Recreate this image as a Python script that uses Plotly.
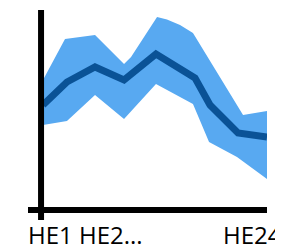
import plotly.graph_objects as go

# Hour-ending positions and values
upper_x = [1.0, 3.26, 6.34, 9.32, 10.04, 12.71, 13.73, 15.07, 16.40, 21.54, 24.0]
upper_y = [65, 85.5, 87.5, 73, 76.5, 96.5, 95.2, 92.5, 88.5, 47.5, 49.5]

lower_x = [1.0, 3.46, 6.34, 9.32, 12.60, 16.40, 18.05, 20.92, 24.0]
lower_y = [42.5, 44.5, 57.5, 45.5, 63, 53, 34, 26.5, 15.5]

line_x = [1.0, 3.46, 6.34, 9.32, 12.60, 16.61, 18.15, 21.02, 24.0]
line_y = [52.5, 64, 71.5, 65, 78, 66, 52.5, 38.5, 36.5]

tick_labels = ["HE1 HE2...", "HE24"]

BAND = "#58A9F1"
LINE = "#0A5296"

fig = go.Figure()
fig.add_trace(go.Scatter(
    x=upper_x + lower_x[::-1], y=upper_y + lower_y[::-1],
    fill="toself", fillcolor=BAND, line=dict(width=0, color=BAND),
    mode="lines", hoverinfo="skip", showlegend=False))
fig.add_trace(go.Scatter(
    x=line_x, y=line_y, mode="lines",
    line=dict(color=LINE, width=7), showlegend=False))

x_min = -0.54
fig.update_layout(
    width=275, height=240,
    margin=dict(l=20, r=16, t=2, b=28),
    paper_bgcolor="white", plot_bgcolor="white",
    xaxis=dict(range=[x_min, 24], visible=False, fixedrange=True),
    yaxis=dict(range=[-5, 100], visible=False, fixedrange=True),
    showlegend=False,
    shapes=[
        dict(type="line", xref="x", yref="y", x0=x_min, x1=24, y0=0, y1=0,
             line=dict(color="black", width=6), layer="above"),
        dict(type="line", xref="x", yref="y", x0=0.8, x1=0.8, y0=-5, y1=100,
             line=dict(color="black", width=6), layer="above"),
    ],
    annotations=[
        dict(text=tick_labels[0], xref="paper", yref="paper", x=0, y=0,
             xanchor="left", yanchor="top", showarrow=False, yshift=4, xshift=-2,
             font=dict(family="Open Sans", size=24, color="black")),
        dict(text=tick_labels[1], xref="paper", yref="paper", x=(215 - 20) / 239, y=0,
             xanchor="left", yanchor="top", showarrow=False, yshift=4, xshift=-2,
             font=dict(family="Open Sans", size=24, color="black")),
    ],
)

fig.write_html("out.html")
